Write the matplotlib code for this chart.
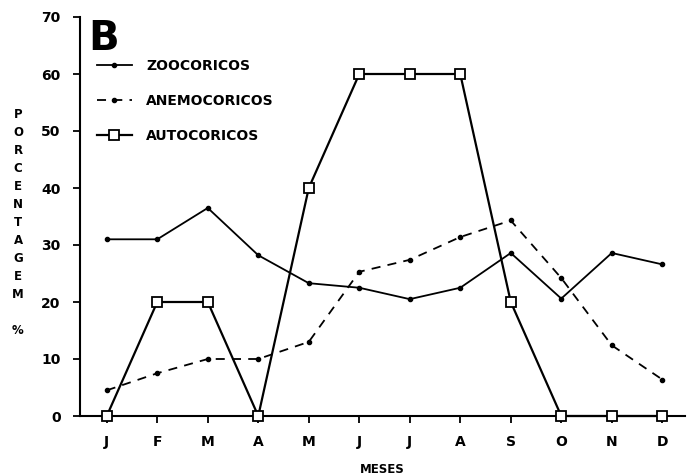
import numpy as np
import matplotlib.pyplot as plt

meses = ["J", "F", "M", "A", "M", "J", "J", "A", "S", "O", "N", "D"]
zoocoricos = [31.0, 31.0, 36.5, 28.2, 23.3, 22.5, 20.5, 22.5, 28.6, 20.6, 28.6, 26.6]
anemocoricos = [4.5, 7.5, 10.0, 10.0, 13.0, 25.3, 27.4, 31.4, 34.3, 24.2, 12.4, 6.4]
autocoricos = [0, 20, 20, 0, 40, 60, 60, 60, 20, 0, 0, 0]

plt.rcParams["font.family"] = "DejaVu Sans"
plt.rcParams["font.weight"] = "bold"

fig = plt.figure(figsize=(6.87, 4.76), dpi=100)
ax = fig.add_axes([80 / 687, 1 - 416 / 476, 605 / 687, 399 / 476])

x = np.arange(len(meses))
ax.plot(x, zoocoricos, "-", color="black", lw=1.3, marker="o", ms=3,
        label="ZOOCORICOS", clip_on=False)
ax.plot(x, anemocoricos, color="black", lw=1.3, ls=(0, (5, 4)), marker="o", ms=3,
        label="ANEMOCORICOS", clip_on=False)
ax.plot(x, autocoricos, "-", color="black", lw=1.6, marker="s", ms=7,
        mfc="white", mec="black", mew=1.3, label="AUTOCORICOS", clip_on=False,
        zorder=3)

ax.set_xlim(-0.53, 11.45)
ax.set_ylim(0, 70)
ax.set_xticks(x)
ax.set_xticklabels(meses)
ax.set_yticks(np.arange(0, 71, 10))

for side in ("top", "right"):
    ax.spines[side].set_visible(False)
for side in ("left", "bottom"):
    ax.spines[side].set_linewidth(1.5)

ax.tick_params(axis="both", direction="out", length=5, width=1.3,
               labelsize=10)
ax.tick_params(axis="x", pad=9)
ax.tick_params(axis="y", pad=9)

ax.set_xlabel("MESES", fontsize=8.5, fontweight="bold", labelpad=10)

fig.text(18 / 687, 1 - 108 / 476, "P\nO\nR\nC\nE\nN\nT\nA\nG\nE\nM\n\n%",
         ha="center", va="top", fontsize=8.5, fontweight="bold",
         linespacing=1.50)

fig.text(88 / 687, 1 - 50 / 476, "B", fontsize=29, fontweight="bold",
         ha="left", va="baseline")

leg = ax.legend(loc="upper left", bbox_to_anchor=(97 / 687, 1 - 59 / 476),
                bbox_transform=fig.transFigure, frameon=False, fontsize=10,
                handlelength=2.5, handletextpad=1.05, labelspacing=1.5,
                borderpad=0, borderaxespad=0)
for t in leg.get_texts():
    t.set_fontweight("bold")

fig.savefig("out.png", dpi=100)
